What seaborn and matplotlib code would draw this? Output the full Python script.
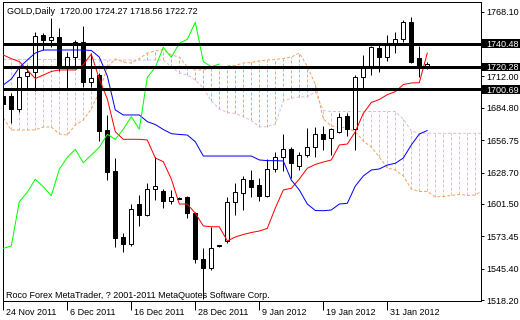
import matplotlib
matplotlib.use("Agg")
import matplotlib.pyplot as plt
import matplotlib.transforms as mtransforms
from matplotlib.patches import Rectangle
import seaborn as sns

# ---------------- data ----------------
opens = [1695.3, 1695.0, 1684.1, 1712.1, 1715.6, 1748.2, 1743.6, 1745.9, 1720.4, 1728.6,
         1741.6, 1706.9, 1713.2, 1665.6, 1630.3, 1572.5, 1566.5, 1601.4, 1591.9, 1614.2,
         1612.9, 1604.3, 1606.5, 1607.2, 1593.4, 1553.5, 1545.7, 1565.6, 1569.6, 1603.4,
         1611.2, 1622.2, 1617.9, 1608.6, 1631.5, 1641.9, 1648.8, 1634.6, 1643.9, 1650.6,
         1662.1, 1658.4, 1664.1, 1677.7, 1666.2, 1711.2, 1719.9, 1736.4, 1728.6, 1740.7,
         1744.2, 1758.9, 1727.7, 1720.00]
highs = [1697.5, 1697.6, 1721.3, 1721.9, 1750.2, 1749.4, 1762.4, 1753.7, 1733.4, 1743.6,
         1755.7, 1732.0, 1715.0, 1678.6, 1641.0, 1576.3, 1601.4, 1609.2, 1619.4, 1642.4,
         1614.4, 1613.6, 1607.5, 1608.3, 1594.8, 1563.0, 1581.7, 1566.0, 1607.7, 1619.4,
         1625.7, 1630.9, 1623.7, 1640.2, 1646.7, 1661.8, 1651.1, 1646.7, 1667.0, 1668.4,
         1669.0, 1667.3, 1680.6, 1680.0, 1713.2, 1730.6, 1738.4, 1740.7, 1747.9, 1750.8,
         1760.9, 1763.8, 1738.4, 1724.27]
lows = [1684.0, 1671.9, 1681.4, 1700.2, 1699.6, 1734.9, 1737.8, 1717.0, 1701.7, 1720.4,
        1702.6, 1702.6, 1656.3, 1622.2, 1563.9, 1560.1, 1565.0, 1582.4, 1591.0, 1604.9,
        1597.7, 1601.4, 1605.5, 1589.0, 1550.0, 1519.5, 1544.2, 1564.5, 1567.4, 1591.9,
        1596.2, 1607.7, 1604.0, 1607.7, 1629.4, 1630.3, 1623.7, 1630.9, 1641.9, 1642.4,
        1648.2, 1643.9, 1662.7, 1660.4, 1648.2, 1701.7, 1713.2, 1716.1, 1725.6, 1732.0,
        1742.1, 1723.4, 1711.2, 1718.56]
closes = [1688.1, 1683.5, 1711.8, 1715.6, 1747.3, 1743.6, 1745.9, 1719.0, 1728.6, 1742.1,
          1706.9, 1710.4, 1664.9, 1629.4, 1571.7, 1566.5, 1596.8, 1591.9, 1614.2, 1617.0,
          1604.3, 1607.2, 1606.0, 1593.4, 1553.5, 1545.7, 1563.0, 1565.0, 1603.4, 1611.6,
          1622.9, 1616.4, 1608.6, 1631.5, 1641.9, 1648.8, 1637.2, 1643.9, 1650.6, 1661.8,
          1657.5, 1666.2, 1677.1, 1666.2, 1711.2, 1719.9, 1737.2, 1728.6, 1740.7, 1744.2,
          1758.9, 1724.8, 1720.4, 1722.72]

tenkan = [1730.6, 1727.4, 1724.9, 1717.6, 1710.2, 1713.2, 1716.3, 1717.6, 1717.6, 1717.6,
          1722.3, 1731.4, 1709.8, 1692.5, 1664.1, 1657.5, 1657.5, 1657.5, 1656.9, 1641.3,
          1638.1, 1623.1, 1601.4, 1601.4, 1593.4, 1582.4, 1581.7, 1581.7, 1569.4, 1572.8,
          1575.0, 1576.7, 1578.0, 1580.3, 1597.9, 1613.6, 1615.0, 1623.1, 1632.4, 1635.7,
          1637.8, 1639.6, 1652.6, 1653.4, 1664.1, 1680.0, 1689.4, 1692.0, 1696.2, 1698.8,
          1705.0, 1706.3, 1706.6, 1732.3]
kijun = [1704.6, 1709.8, 1719.7, 1726.2, 1732.3, 1734.9, 1734.9, 1734.9, 1734.9, 1734.9,
         1734.9, 1734.5, 1728.8, 1712.4, 1682.9, 1678.6, 1678.6, 1678.6, 1672.8, 1670.3,
         1666.0, 1662.4, 1661.7, 1661.2, 1655.4, 1643.0, 1643.0, 1643.0, 1643.0, 1643.0,
         1643.0, 1643.0, 1639.6, 1639.0, 1639.0, 1638.7, 1622.2, 1613.6, 1601.4, 1595.8,
         1595.6, 1596.2, 1601.4, 1602.0, 1617.0, 1625.7, 1630.9, 1631.8, 1635.2, 1636.7,
         1641.3, 1652.6, 1662.1, 1665.1]
span_a = [1676.0, 1665.6, 1665.6, 1665.6, 1665.6, 1668.2, 1668.2, 1662.1, 1661.2, 1669.9,
          1674.2, 1684.0, 1698.5, 1720.2, 1727.1, 1724.5, 1723.6, 1727.5, 1732.3, 1734.0,
          1735.3, 1730.6, 1728.8, 1720.2, 1717.6, 1717.6, 1719.0, 1718.9, 1721.2, 1721.6,
          1723.6, 1724.1, 1725.4, 1726.2, 1726.7, 1727.5, 1728.8, 1732.3, 1720.6, 1705.1,
          1675.1, 1669.0, 1668.2, 1667.3, 1663.9, 1656.0, 1650.8, 1642.2, 1632.6, 1630.9,
          1625.7, 1614.4, 1612.3, 1612.3, 1607.5, 1607.9, 1608.8, 1609.7, 1608.8, 1609.2,
          1613.6]
span_b = [1726.7, 1726.7, 1726.7, 1726.7, 1726.7, 1726.7, 1726.7, 1726.7, 1726.7, 1726.7,
          1726.7, 1726.7, 1726.7, 1726.2, 1726.2, 1726.2, 1726.2, 1726.2, 1726.2, 1726.2,
          1726.2, 1720.2, 1715.0, 1713.2, 1708.9, 1702.0, 1690.7, 1683.8, 1680.7, 1680.0,
          1677.1, 1673.8, 1668.4, 1668.4, 1670.8, 1690.7, 1693.0, 1694.2, 1694.4, 1698.5,
          1682.5, 1681.6, 1681.6, 1681.6, 1681.6, 1681.6, 1681.6, 1681.6, 1681.6, 1681.6,
          1675.1, 1664.7, 1662.7, 1662.7, 1662.7, 1662.7, 1662.7, 1662.7, 1662.7, 1662.7,
          1662.7]
chikou_shift = 26

x_tick_bars = [0, 8, 16, 24, 32, 40, 48]
x_tick_labels = ["24 Nov 2011", "6 Dec 2011", "16 Dec 2011", "28 Dec 2011",
                 "9 Jan 2012", "19 Jan 2012", "31 Jan 2012"]
y_tick_values = [1768.10, 1712.00, 1684.80, 1656.75, 1628.70, 1601.50, 1573.45, 1545.40, 1518.20]
y_tick_labels = ["1768.10", "1712.00", "1684.80", "1656.75", "1628.70", "1601.50",
                 "1573.45", "1545.40", "1518.20"]
level_values = [1740.48, 1720.28, 1700.69]
level_labels = ["1740.48", "1720.28", "1700.69"]
header_text = "GOLD,Daily  1720.00 1724.27 1718.56 1722.72"
footer_text = "Roco Forex MetaTrader, ? 2001-2011 MetaQuotes Software Corp."

# ---------------- style ----------------
sns.set_style("white")
plt.rcParams['font.family'] = ['Liberation Sans', 'DejaVu Sans']
FS = 6.5
PX = 0.72  # one pixel in points at 100 dpi

W, H = 520, 320
fig = plt.figure(figsize=(W / 100, H / 100), dpi=100)
fig.patch.set_facecolor("white")
left_px, right_px, top_px, bottom_px = 2.7, 481.0, 2.3, 300.7
ax = fig.add_axes([left_px / W, 1 - bottom_px / H, (right_px - left_px) / W, (bottom_px - top_px) / H])
ax.set_facecolor("white")

SANDY = "#F4A460"
THISTLE = "#D8BFD8"
dash = (0, (3, 2))

# cloud (vertical dotted histogram between the spans)
for j in range(len(span_a)):
    a, b = span_a[j], span_b[j]
    col = SANDY if a > b else THISTLE
    ax.vlines(j, min(a, b), max(a, b), colors=col, linestyles=dash, lw=PX, zorder=1)

span_x = list(range(len(span_a)))
sns.lineplot(x=span_x, y=span_b, ax=ax, color=THISTLE, lw=PX, linestyle=dash, zorder=2)
sns.lineplot(x=span_x, y=span_a, ax=ax, color=SANDY, lw=PX, linestyle=dash, zorder=2)

# candles
bars = list(range(len(opens)))
ax.vlines(bars, lows, highs, colors="black", lw=PX, zorder=3)
for i in bars:
    o, c = opens[i], closes[i]
    bull = c >= o
    ax.bar(i, abs(c - o), bottom=min(o, c), width=0.5,
           color="white" if bull else "black", edgecolor="black", linewidth=PX, zorder=4)

# ichimoku lines
sns.lineplot(x=bars, y=tenkan, ax=ax, color="#FF0000", lw=PX, zorder=5)
sns.lineplot(x=bars, y=kijun, ax=ax, color="#0000FF", lw=PX, zorder=5)
chikou_x = list(range(len(closes) - chikou_shift))
sns.lineplot(x=chikou_x, y=closes[chikou_shift:], ax=ax, color="#00FF00", lw=PX, zorder=5)

# horizontal levels
for v in level_values:
    ax.axhline(v, color="black", lw=3 * PX, zorder=6)

ax.set_xlim(-0.075, 59.71)
ax.set_ylim(1517.6, 1776.25)

# spines
for s in ax.spines.values():
    s.set_color("black")
    s.set_linewidth(PX)
    s.set_visible(True)

# y axis on right
ax.yaxis.tick_right()
ax.set_yticks(y_tick_values)
ax.set_yticklabels(y_tick_labels)
ax.tick_params(axis="y", which="both", right=True, left=False, direction="out",
               length=3 * PX, width=PX, color="black", pad=2.2 * PX, labelsize=FS,
               labelcolor="black")
ax.yaxis.set_tick_params(labelright=True, labelleft=False)

# x axis ticks with left-aligned labels
ax.set_xticks(x_tick_bars)
ax.set_xticklabels([])
ax.tick_params(axis="x", which="both", bottom=True, direction="out",
               length=9 * PX, width=PX, color="black")
for xb, lab in zip(x_tick_bars, x_tick_labels):
    ax.annotate(lab, xy=(xb, 0), xycoords=("data", "axes fraction"),
                xytext=(2.2 * PX, -14 * PX), textcoords="offset points",
                ha="left", va="baseline", fontsize=FS, color="black", annotation_clip=False)

ax.set_xlabel("")
ax.set_ylabel("")
ax.grid(False)

# level boxes on the price scale
blend = mtransforms.blended_transform_factory(fig.transFigure, ax.transData)
box_h = 8.5 / ((bottom_px - top_px) / (1776.25 - 1517.6))
for v, lab in zip(level_values, level_labels):
    ax.add_patch(Rectangle((482 / W, v - box_h / 2), 1 - 482 / W, box_h, transform=blend,
                           facecolor="black", edgecolor="none", clip_on=False, zorder=10))
    ax.text(486.5 / W, v, lab, transform=blend, ha="left", va="center_baseline",
            fontsize=FS, color="white", zorder=11, clip_on=False)

# header and footer text
fig.text(7.3 / W, 1 - 14 / H, header_text, ha="left", va="baseline", fontsize=FS, color="black")
fig.text(6 / W, 1 - 298.3 / H, footer_text, ha="left", va="baseline", fontsize=FS, color="black")

fig.savefig("out.png", dpi=100, facecolor="white")
